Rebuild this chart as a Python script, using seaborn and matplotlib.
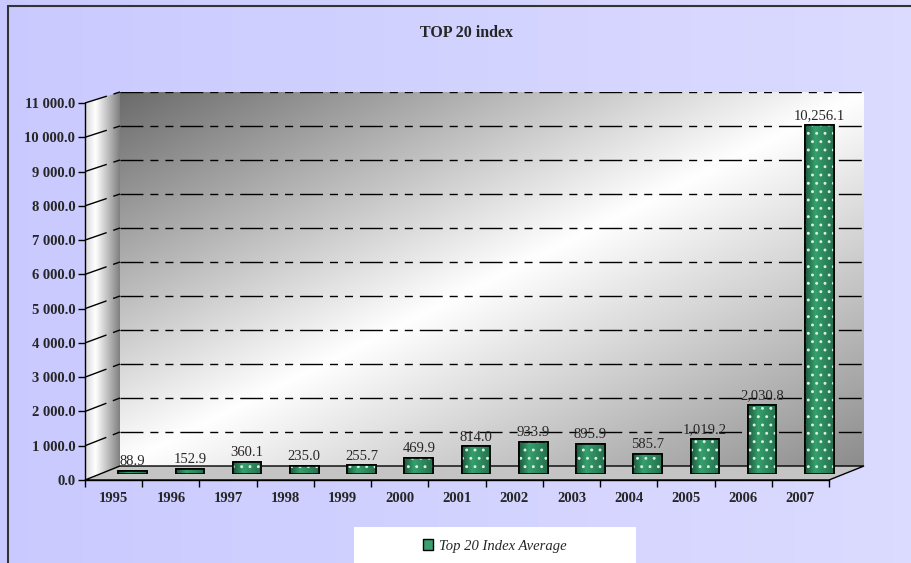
# ---------------------------------------------------
# TOP 20 index - yearly average (pseudo 3D column chart)
# ---------------------------------------------------

import numpy as np
import seaborn as sns
import matplotlib.pyplot as plt
from matplotlib.patches import Polygon, Rectangle, Patch
from matplotlib.ticker import FuncFormatter

# -----------------------------
# Data
# -----------------------------
years = ["1995", "1996", "1997", "1998", "1999", "2000", "2001",
         "2002", "2003", "2004", "2005", "2006", "2007"]
index_avg = [88.9, 152.9, 360.1, 235.0, 255.7, 469.9, 814.0,
             933.9, 895.9, 585.7, 1019.2, 2030.8, 10256.1]
y_ticks = list(range(0, 11001, 1000))
series_name = "Top 20 Index Average"
chart_title = "TOP 20 index"

# -----------------------------
# Style
# -----------------------------
sns.set_theme(style="white")
plt.rcParams["font.family"] = ["Liberation Serif", "DejaVu Serif"]
plt.rcParams["hatch.linewidth"] = 0.9

GREEN = "#2e8b5f"
W, H = 912, 563
Y_MAX = 11000
DASH = (0, (16.5, 5, 5.8, 5, 5.8, 5))

fig = plt.figure(figsize=(W / 100, H / 100), dpi=100)


def px_axes(x0, y0, x1, y1):
    # pixel box with top-left origin -> figure axes
    return fig.add_axes([x0 / W, 1 - y1 / H, (x1 - x0) / W, (y1 - y0) / H])


# front frame / back wall geometry (pixels)
FX0, FX1, FY0, FY1 = 85, 829, 103, 480
BX0, BX1, BY0, BY1 = 120, 864, 92, 466

# -----------------------------
# Decoration layer (pixel coords)
# -----------------------------
deco = px_axes(0, 0, W, H)
deco.axis("off")

bg = np.zeros((2, 256, 3))
t = np.linspace(0, 1, 256)
bg[..., 0] = 0.79 + 0.07 * t
bg[..., 1] = 0.79 + 0.07 * t
bg[..., 2] = 1.0
deco.imshow(bg, extent=(0, W, H, 0), aspect="auto", zorder=0)

# back wall: diagonal grey gradient
yy, xx = np.mgrid[0:1:200j, 0:1:400j]
s = 0.5 * xx + 0.5 * yy
shade = np.interp(s, [0, 0.5, 1.0], [0.42, 1.0, 0.55])
deco.imshow(np.dstack([shade] * 3), extent=(BX0, BX1, BY1, BY0),
            aspect="auto", zorder=1)

# side wall: horizontal gradient clipped to a parallelogram
side = Polygon([(FX0, FY0), (BX0, BY0), (BX0, BY1), (FX0, FY1)],
               closed=True, facecolor="none", edgecolor="none")
deco.add_patch(side)
sx = np.linspace(0, 1, 100)
side_shade = np.interp(sx, [0, 0.3, 1.0], [0.85, 1.0, 0.5])[None, :]
im = deco.imshow(np.dstack([np.repeat(side_shade, 2, axis=0)] * 3),
                 extent=(FX0, BX0, FY1, BY0), aspect="auto", zorder=1)
im.set_clip_path(side)

# floor
deco.add_patch(Polygon([(FX0, FY1), (FX1, FY1), (BX1, BY1), (BX0, BY1)],
                       closed=True, facecolor="#c4c4c4", edgecolor="black",
                       lw=1, zorder=2))

# slanted grid segments on the side wall
for v in y_ticks[1:]:
    yf = FY1 - v / Y_MAX * (FY1 - FY0)
    yb = BY1 - v / Y_MAX * (BY1 - BY0)
    deco.plot([FX0, BX0], [yf, yb], color="black", lw=1.0, ls=DASH, zorder=3)

# outer border
deco.plot([8.5, 8.5], [5.5, H], color="#333333", lw=1.5, zorder=3)
deco.plot([8.5, W], [5.5, 5.5], color="#333333", lw=1.5, zorder=3)

# legend box
deco.add_patch(Rectangle((354, 527), 282, 40, facecolor="white",
                         edgecolor="none", zorder=3))

deco.text(467, 33, chart_title, ha="center", va="center",
          fontsize=11.5, fontweight="bold")

deco.set_xlim(0, W)
deco.set_ylim(H, 0)

# -----------------------------
# Back wall grid lines
# -----------------------------
ax_back = px_axes(BX0, BY0, BX1, BY1)
ax_back.patch.set_alpha(0)
ax_back.set_ylim(0, Y_MAX)
ax_back.set_xlim(0, 1)
for v in y_ticks[1:]:
    ax_back.axhline(v, color="black", lw=1.0, ls=DASH)
ax_back.axis("off")

# -----------------------------
# Bars
# -----------------------------
ax_bar = px_axes(FX0 + 19, FY0 - 3, FX1 + 19, FY1 - 6)
ax_bar.patch.set_alpha(0)
sns.barplot(x=years, y=index_avg, ax=ax_bar, color=GREEN, width=0.5,
            saturation=1, edgecolor="black", linewidth=1.2, zorder=2)
ax_bar.set_ylim(0, Y_MAX)

cyl = np.interp(np.linspace(0, 1, 64), [0, 0.35, 1.0], [0.55, 1.0, 0.7])
base = np.array(plt.matplotlib.colors.to_rgb(GREEN))
cyl_rgb = np.clip(base[None, None, :] * cyl[None, :, None] * 1.15, 0, 1)
for p in list(ax_bar.patches):
    x0, y0 = p.get_x(), p.get_y()
    w, h = p.get_width(), p.get_height()
    g = ax_bar.imshow(np.repeat(cyl_rgb, 2, axis=0),
                      extent=(x0, x0 + w, y0, y0 + h),
                      aspect="auto", zorder=2.5)
    g.set_clip_path(p)
    ax_bar.add_patch(Rectangle((x0, y0), w, h, fill=False, hatch="..",
                               edgecolor="#d8efe2", lw=0, zorder=2.7))
    ax_bar.add_patch(Rectangle((x0, y0), w, h, fill=False,
                               edgecolor="black", lw=1.2, zorder=2.9))

ax_bar.bar_label(ax_bar.containers[0],
                 labels=[f"{v:,.1f}" for v in index_avg],
                 padding=2, fontsize=10.5)
ax_bar.set_xlim(-0.5, len(years) - 0.5)
ax_bar.set_ylim(0, Y_MAX)
ax_bar.axis("off")

# -----------------------------
# Front axes: ticks and labels
# -----------------------------
ax = px_axes(FX0, FY0, FX1, FY1)
ax.patch.set_alpha(0)
ax.set_xlim(-0.5, len(years) - 0.5)
ax.set_ylim(0, Y_MAX)
ax.set_yticks(y_ticks)
ax.yaxis.set_major_formatter(
    FuncFormatter(lambda v, _: f"{v:,.1f}".replace(",", " ")))
ax.set_xticks(range(len(years)))
ax.set_xticklabels(years)
ax.set_xticks(np.arange(-0.5, len(years)), minor=True)
ax.tick_params(axis="x", which="major", length=0, pad=9)
ax.tick_params(axis="x", which="minor", length=5, width=1,
               direction="out", color="black", bottom=True)
ax.tick_params(axis="y", length=5, width=1, direction="out",
               color="black", left=True, pad=2)
for lab in ax.get_xticklabels() + ax.get_yticklabels():
    lab.set_fontweight("bold")
    lab.set_fontsize(10.5)
for side_name in ["top", "right"]:
    ax.spines[side_name].set_visible(False)
for side_name in ["left", "bottom"]:
    ax.spines[side_name].set_color("black")
    ax.spines[side_name].set_linewidth(1)

# -----------------------------
# Legend
# -----------------------------
fig.legend(handles=[Patch(facecolor="#3aa070", edgecolor="black")],
           labels=[series_name], loc="center",
           bbox_to_anchor=(495 / W, 1 - 546 / H), frameon=False,
           prop={"style": "italic", "size": 10.5},
           handlelength=0.7, handleheight=0.7, handletextpad=0.4)

fig.savefig("out.png", dpi=100)
plt.close(fig)
